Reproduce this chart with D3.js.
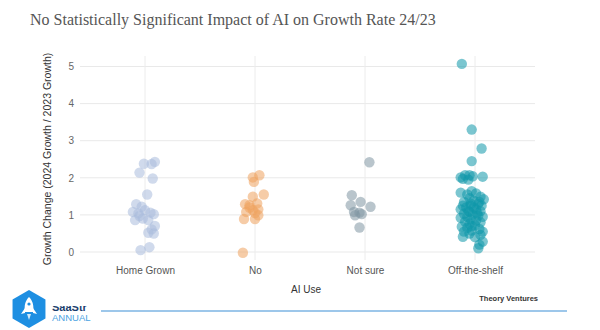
<!DOCTYPE html>
<html>
<head>
<meta charset="utf-8">
<script src="https://cdn.jsdelivr.net/npm/d3@7"></script>
<style>
  html, body { margin: 0; padding: 0; background: #fff; }
  svg { display: block; }
</style>
</head>
<body>
<svg id="chart" width="600" height="330"></svg>
<script>
// Categories of AI use and growth-change values per company (2024 growth / 2023 growth).
// Jitter is the horizontal spread of each dot, in fractions of a category step.
const categories = ["Home Grown", "No", "Not sure", "Off-the-shelf"];

const homeGrownValues = [2.38, 2.37, 2.43, 2.14, 1.98, 1.55, 1.29, 1.22, 1.08, 1.04, 1.13, 1.06, 1.02, 0.86, 0.90, 0.97, 0.86, 0.70, 0.61, 0.52, 0.50, 0.05, 0.13];
const homeGrownJitter = [-0.01, 0.06, 0.09, -0.05, 0.07, 0.02, -0.08, -0.03, -0.11, -0.06, 0.00, 0.05, 0.08, -0.09, -0.02, -0.05, 0.03, 0.09, 0.06, 0.03, 0.08, -0.04, 0.04];

const noValues = [2.01, 2.07, 1.89, 1.55, 1.49, 1.29, 1.26, 1.31, 1.13, 1.15, 1.08, 0.89, 0.89, 0.99, -0.02, 1.20, 1.05];
const noJitter = [-0.02, 0.04, -0.01, 0.08, -0.02, -0.09, -0.05, 0.02, -0.02, 0.03, -0.08, -0.10, 0.00, 0.03, -0.11, -0.05, 0.00];

const notSureValues = [2.42, 1.53, 1.35, 1.26, 1.22, 1.08, 1.06, 0.99, 1.02, 0.66];
const notSureJitter = [0.04, -0.12, -0.04, -0.13, 0.05, -0.10, -0.05, -0.09, -0.03, -0.05];

const offTheShelfValues = [5.07, 3.30, 2.79, 2.45, 2.03, 2.01, 2.07, 2.07, 1.97, 1.95, 2.04,
  1.60, 1.64, 1.58, 1.49, 1.42, 1.55, 1.35, 1.45, 1.38, 1.30, 1.25, 1.25, 1.20, 1.15, 1.15, 1.10,
  1.08, 1.03, 1.00, 0.98, 0.95, 0.95, 0.92, 0.88, 0.85, 0.82, 0.80, 0.76, 0.72, 0.68, 0.65, 0.62,
  0.58, 0.55, 0.55, 0.50, 0.46, 0.41, 0.40, 0.28, 0.10, 0.20, 1.10, 1.20, 1.35, 1.25, 0.70, 1.05, 1.30];
const offTheShelfJitter = [-0.12, -0.03, 0.06, -0.03, 0.07, -0.13, -0.09, -0.05, -0.11, -0.06, -0.02,
  -0.13, -0.03, 0.01, 0.05, 0.08, -0.07, -0.10, -0.05, -0.01, 0.03, 0.06, -0.04, -0.08, -0.13, 0.01, 0.05,
  -0.05, -0.10, -0.02, 0.03, 0.07, -0.07, -0.13, -0.04, 0.01, -0.09, 0.05, -0.05, 0.00, -0.12, -0.07, 0.04,
  -0.03, -0.10, 0.07, -0.05, 0.05, -0.11, 0.00, 0.07, 0.03, 0.04, -0.06, -0.01, 0.04, -0.11, -0.03, 0.02, -0.04];

const yTicks = [0, 1, 2, 3, 4, 5];
const categoryColors = ["#a9bcdc", "#eea25f", "#7f95a2", "#0f97aa"];

const seriesValues = [homeGrownValues, noValues, notSureValues, offTheShelfValues];
const seriesJitter = [homeGrownJitter, noJitter, notSureJitter, offTheShelfJitter];

const points = [];
categories.forEach((cat, i) => {
  seriesValues[i].forEach((v, j) => points.push({ cat, value: v, jitter: seriesJitter[i][j], color: categoryColors[i] }));
});

const svg = d3.select("#chart");
const plotLeft = 80, plotRight = 535;
const sans = "'Liberation Sans', Arial, Helvetica, sans-serif";

const x = d3.scalePoint().domain(categories).range([90, 530]).padding(0.5);
const y = d3.scaleLinear().domain([0, 5]).range([252, 66.5]);

// Title
svg.append("text")
  .attr("x", 30).attr("y", 25)
  .style("font-family", "'Liberation Serif', 'Times New Roman', 'DejaVu Serif', serif")
  .attr("font-size", 16)
  .attr("fill", "#555")
  .text("No Statistically Significant Impact of AI on Growth Rate 24/23");

// Horizontal gridlines
svg.append("g").selectAll("line").data(yTicks).join("line")
  .attr("x1", plotLeft).attr("x2", plotRight)
  .attr("y1", d => y(d)).attr("y2", d => y(d))
  .attr("stroke", "#e9e9e9").attr("stroke-width", 1);

// Vertical gridlines at each category
svg.append("g").selectAll("line").data(categories).join("line")
  .attr("x1", d => x(d)).attr("x2", d => x(d))
  .attr("y1", 56).attr("y2", 260)
  .attr("stroke", "#ececec").attr("stroke-width", 1);

// Y axis tick labels
const yAxis = d3.axisLeft(y).tickValues(yTicks).tickSize(0).tickPadding(0).tickFormat(d3.format("d"));
const gy = svg.append("g").attr("transform", `translate(${74},0)`).call(yAxis);
gy.select(".domain").remove();
gy.selectAll("text")
  .style("font-family", sans)
  .attr("font-size", 10).attr("fill", "#666");

// X axis category labels
const xAxis = d3.axisBottom(x).tickSize(0).tickPadding(0);
const gx = svg.append("g").attr("transform", `translate(0,${267})`).call(xAxis);
gx.select(".domain").remove();
gx.selectAll("text")
  .style("font-family", sans)
  .attr("font-size", 10).attr("fill", "#555");

// Axis titles
svg.append("text")
  .attr("transform", `translate(${51},${159}) rotate(-90)`)
  .attr("text-anchor", "middle")
  .style("font-family", sans)
  .attr("font-size", 10.5).attr("fill", "#333")
  .text("Growth Change (2024 Growth / 2023 Growth)");

svg.append("text")
  .attr("x", 306).attr("y", 293)
  .attr("text-anchor", "middle")
  .style("font-family", sans)
  .attr("font-size", 10).attr("fill", "#333")
  .text("AI Use");

// Strip-plot dots
svg.append("g").selectAll("circle").data(points).join("circle")
  .attr("cx", d => x(d.cat) + d.jitter * x.step())
  .attr("cy", d => y(d.value))
  .attr("r", 5.2)
  .attr("fill", d => d.color)
  .attr("fill-opacity", 0.55);

// Footer: source credit, rule and event badge
svg.append("text")
  .attr("x", 538).attr("y", 301)
  .attr("text-anchor", "end")
  .style("font-family", sans)
  .attr("font-size", 7.5).attr("font-weight", "bold").attr("fill", "#333")
  .text("Theory Ventures");

svg.append("line")
  .attr("x1", 101).attr("x2", 567).attr("y1", 311).attr("y2", 311)
  .attr("stroke", "#3d8fd6").attr("stroke-width", 1.2);

const badge = svg.append("g").attr("transform", "translate(29,309)");
const hexR = 19;
badge.append("path")
  .attr("d", d3.line()(d3.range(6).map(k => {
    const a = Math.PI / 3 * k - Math.PI / 2;
    return [hexR * Math.cos(a), hexR * Math.sin(a)];
  })) + "Z")
  .attr("fill", "#1e8fe2");
// Rocket
badge.append("path")
  .attr("d", "M0,-12 C4,-8 5,-3 4,3 L-4,3 C-5,-3 -4,-8 0,-12 Z")
  .attr("fill", "#fff");
badge.append("path").attr("d", "M-4,-1 L-8,5 L-4,4 Z").attr("fill", "#fff");
badge.append("path").attr("d", "M4,-1 L8,5 L4,4 Z").attr("fill", "#fff");
badge.append("circle").attr("cx", 0).attr("cy", -5).attr("r", 1.6).attr("fill", "#1e8fe2");
badge.append("path").attr("d", "M-2,5 L0,11 L2,5 Z").attr("fill", "#fff").attr("fill-opacity", 0.8);

svg.append("clipPath").attr("id", "brandClip")
  .append("rect").attr("x", 50).attr("y", 306).attr("width", 50).attr("height", 10);
svg.append("text")
  .attr("x", 52).attr("y", 311)
  .attr("clip-path", "url(#brandClip)")
  .style("font-family", sans)
  .attr("font-size", 11).attr("font-weight", "bold").attr("fill", "#1b3f6e")
  .text("SaaStr");
svg.append("text")
  .attr("x", 52).attr("y", 321)
  .style("font-family", sans)
  .attr("font-size", 9.5).attr("fill", "#4aa3e2")
  .text("ANNUAL");
</script>
</body>
</html>
